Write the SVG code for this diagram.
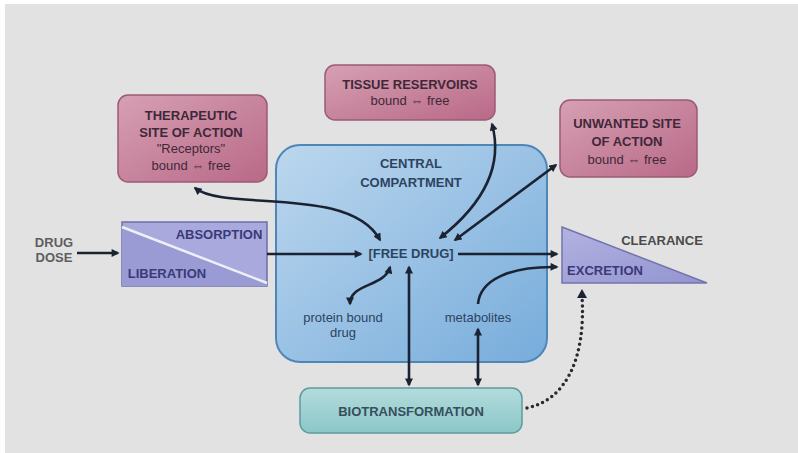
<svg xmlns="http://www.w3.org/2000/svg" width="798" height="453" viewBox="0 0 798 453">
  <defs>
    <linearGradient id="pinkFill" x1="0" y1="0" x2="1" y2="1">
      <stop offset="0" stop-color="#d6a0b3"/>
      <stop offset="1" stop-color="#b96987"/>
    </linearGradient>
    <linearGradient id="blueFill" x1="0" y1="0" x2="1" y2="1">
      <stop offset="0" stop-color="#bcd7ee"/>
      <stop offset="1" stop-color="#77acdb"/>
    </linearGradient>
    <linearGradient id="tealFill" x1="0" y1="0" x2="0" y2="1">
      <stop offset="0" stop-color="#b3dcdc"/>
      <stop offset="1" stop-color="#8cc6c8"/>
    </linearGradient>
    <linearGradient id="violetFill" x1="0" y1="0" x2="1" y2="1">
      <stop offset="0" stop-color="#b2b2e2"/>
      <stop offset="1" stop-color="#9494d0"/>
    </linearGradient>
    <marker id="ah" viewBox="0 0 10 10" refX="8" refY="5" markerWidth="9" markerHeight="8" markerUnits="userSpaceOnUse" orient="auto-start-reverse">
      <path d="M0,0 L10,5 L0,10 z" fill="#1b2232"/>
    </marker>
  </defs>
  <style>
    text { font-family: "Liberation Sans", Arial, sans-serif; font-size: 13px; text-anchor: middle; }
    .pink { fill: url(#pinkFill); stroke: #9c5a78; stroke-width: 1.5; }
    .pinkText { fill: #3f2838; font-weight: bold; font-size: 13px; }
    .blueText { fill: #2c4460; font-weight: bold; font-size: 13px; }
    .small { font-weight: normal; font-size: 13px; }
    .label { font-weight: bold; font-size: 13px; }
    .arrow { fill: none; stroke: #1b2232; stroke-width: 2.6; }
    .dots { fill: none; stroke: #2a2a2a; stroke-width: 3.5; stroke-linecap: round; stroke-dasharray: 0 5.5; }
  </style>

  <!-- page -->
  <rect x="0" y="0" width="798" height="453" fill="#ffffff"/>
  <rect x="5" y="4" width="793" height="449" fill="#e2e2e2"/>

  <!-- central compartment -->
  <g id="central">
    <rect x="276" y="145" width="271" height="217" rx="24" fill="url(#blueFill)" stroke="#4d87b8" stroke-width="2"/>
    <text class="blueText" x="411" y="168">CENTRAL</text>
    <text class="blueText" x="411" y="187">COMPARTMENT</text>
  </g>
  <g id="free-drug">
    <text class="blueText" x="411" y="258">[FREE DRUG]</text>
  </g>
  <g id="protein-bound">
    <text class="blueText small" x="343" y="322">protein bound</text>
    <text class="blueText small" x="343" y="337">drug</text>
  </g>
  <g id="metabolites">
    <text class="blueText small" x="478" y="322">metabolites</text>
  </g>

  <!-- drug dose -->
  <g id="drug-dose">
    <text class="label" x="54" y="247" fill="#5e5e5e">DRUG</text>
    <text class="label" x="54" y="262" fill="#5e5e5e">DOSE</text>
  </g>

  <!-- absorption / liberation -->
  <g id="absorption">
    <rect x="122" y="222" width="145" height="64" fill="#a9a9dd" stroke="#6f6fa8" stroke-width="1.5"/>
    <polygon points="122,227 267,283 267,286 122,286" fill="#9a9ad4"/>
    <line x1="122" y1="227" x2="267" y2="283" stroke="#eef0f8" stroke-width="2.5"/>
    <text class="label" x="219" y="239" fill="#3a3a78">ABSORPTION</text>
    <text class="label" x="167" y="278" fill="#3a3a78">LIBERATION</text>
  </g>

  <!-- therapeutic site -->
  <g id="therapeutic">
    <rect class="pink" x="118" y="95" width="149" height="87" rx="10"/>
    <text class="pinkText" x="191" y="120">THERAPEUTIC</text>
    <text class="pinkText" x="191" y="137">SITE OF ACTION</text>
    <text class="pinkText small" x="191" y="153">"Receptors"</text>
    <text class="pinkText small" x="191" y="170">bound ⇔ free</text>
  </g>

  <!-- tissue reservoirs -->
  <g id="tissue">
    <rect class="pink" x="325" y="65" width="170" height="55" rx="10"/>
    <text class="pinkText" x="410" y="89">TISSUE RESERVOIRS</text>
    <text class="pinkText small" x="410" y="105">bound ⇔ free</text>
  </g>

  <!-- unwanted site -->
  <g id="unwanted">
    <rect class="pink" x="560" y="100" width="137" height="77" rx="10"/>
    <text class="pinkText" x="627" y="128">UNWANTED SITE</text>
    <text class="pinkText" x="627" y="146">OF ACTION</text>
    <text class="pinkText small" x="627" y="164">bound ⇔ free</text>
  </g>

  <!-- excretion -->
  <g id="excretion">
    <polygon points="562,227 707,283 562,283" fill="url(#violetFill)" stroke="#7474ad" stroke-width="1.5"/>
    <text class="label" x="662" y="245" fill="#4a4a4a">CLEARANCE</text>
    <text class="label" x="605" y="275" fill="#3a3a78">EXCRETION</text>
  </g>

  <!-- biotransformation -->
  <g id="biotransformation">
    <rect x="300" y="388" width="222" height="45" rx="10" fill="url(#tealFill)" stroke="#5c9c9e" stroke-width="1.5"/>
    <text class="label" x="411" y="416" fill="#35505c">BIOTRANSFORMATION</text>
  </g>

  <!-- connectors -->
  <g id="connectors">
    <path class="arrow" d="M77,253 H118" marker-end="url(#ah)"/>
    <path class="arrow" d="M267,254 H361" marker-end="url(#ah)"/>
    <path class="arrow" d="M458,254 H557" marker-end="url(#ah)"/>
    <path class="arrow" d="M195,188 C225,212 350,185 380,240" marker-start="url(#ah)" marker-end="url(#ah)"/>
    <path class="arrow" d="M492,124 C504,168 482,205 440,238" marker-start="url(#ah)" marker-end="url(#ah)"/>
    <path class="arrow" d="M556,165 L455,240" marker-start="url(#ah)" marker-end="url(#ah)"/>
    <path class="arrow" d="M390,267 C385,287 350,283 350,304" marker-start="url(#ah)" marker-end="url(#ah)"/>
    <path class="arrow" d="M409,267 V385" marker-start="url(#ah)" marker-end="url(#ah)"/>
    <path class="arrow" d="M478,329 V385" marker-start="url(#ah)" marker-end="url(#ah)"/>
    <path class="arrow" d="M478,304 C480,280 510,266 557,267" marker-end="url(#ah)"/>
    <path class="dots" d="M527,408 C565,400 586,360 582,296"/>
    <path d="M577,298 L582,289 L587,298 z" fill="#1b2232"/>
  </g>
</svg>
